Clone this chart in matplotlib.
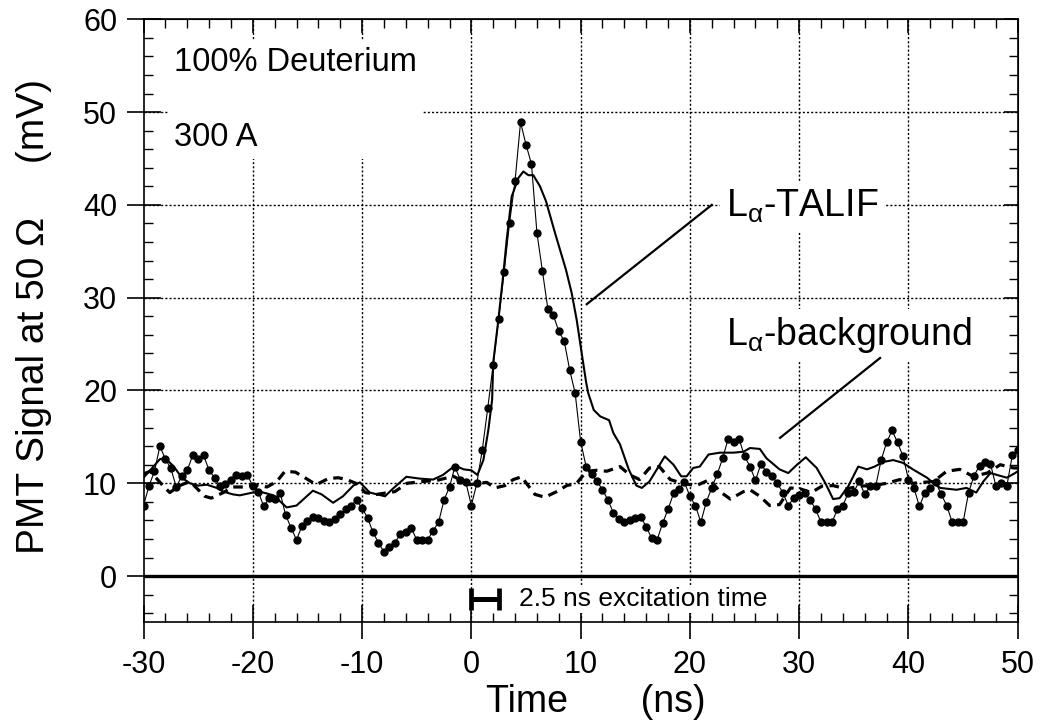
import numpy as np
import matplotlib
matplotlib.use('Agg')
import matplotlib.pyplot as plt

plt.rcParams['font.family'] = ['Liberation Sans', 'DejaVu Sans']
plt.rcParams['mathtext.fontset'] = 'custom'
plt.rcParams['mathtext.rm'] = 'Liberation Sans'
plt.rcParams['mathtext.it'] = 'Liberation Sans'
plt.rcParams['axes.unicode_minus'] = False

# signal with markers, sampled every 0.5 ns from -30 ns
t0 = -30.0
dt = 0.5
dots_mv = [
    7.6, 9.7, 11.3, 14.0, 12.6, 11.6, 9.6, 10.8, 11.4, 13.0,
    12.6, 13.0, 11.4, 10.6, 9.7, 9.9, 10.3, 10.9, 10.8, 10.9,
    9.7, 9.1, 7.5, 8.4, 8.3, 9.0, 6.6, 5.2, 3.9, 5.4,
    5.9, 6.4, 6.3, 5.9, 5.8, 6.2, 6.7, 7.2, 7.6, 8.2,
    7.3, 6.3, 4.7, 3.6, 2.6, 3.1, 3.6, 4.5, 4.8, 5.2,
    3.9, 3.9, 3.9, 4.9, 5.8, 8.2, 9.6, 11.8, 10.3, 10.1,
    7.6, 10.0, 13.6, 18.1, 22.8, 27.7, 32.8, 38.1, 42.6, 48.9,
    46.5, 44.4, 37.0, 32.9, 28.8, 28.1, 26.4, 25.3, 22.2, 19.7,
    14.5, 11.8, 11.0, 10.2, 9.3, 8.2, 6.8, 6.1, 5.8, 6.0,
    6.3, 6.4, 5.3, 4.1, 3.9, 5.7, 7.2, 8.9, 9.4, 10.1,
    8.6, 7.6, 5.8, 8.0, 9.5, 11.0, 12.7, 14.8, 14.4, 14.8,
    12.9, 11.8, 10.3, 12.1, 11.2, 10.8, 10.0, 9.0, 7.6, 8.4,
    8.7, 9.0, 8.2, 7.2, 5.8, 5.8, 5.8, 7.2, 7.6, 9.0,
    9.1, 10.2, 8.8, 9.7, 9.7, 12.5, 14.4, 15.7, 14.4, 12.9,
    10.4, 9.5, 7.5, 9.0, 9.5, 10.1, 8.8, 7.6, 5.8, 5.8,
    5.8, 9.0, 10.8, 11.9, 12.3, 12.1, 9.7, 10.0, 9.7, 13.0,
    13.6,
]

# solid trace
solid_t = [-30.0, -28.5, -28.0, -27.4, -27.1, -26.5, -25.75, -25.0, -24.2, -23.3,
           -22.7, -21.8, -21.2, -20.0, -19.35, -18.1, -16.9, -16.0, -14.5, -13.7,
           -12.65, -11.75, -10.8, -10.2, -9.3, -7.9, -7.2, -5.95, -4.7, -3.5,
           -2.6, -1.5, -0.7, 0.0, 0.55, 1.1, 1.56, 1.9, 2.0, 2.47,
           2.93, 3.23, 3.69, 4.3, 4.76, 5.22, 5.67, 6.28, 6.83, 7.65,
           8.66, 9.18, 9.64, 10.1, 10.5, 10.7, 11.2, 11.8, 12.6, 13.0,
           13.6, 14.4, 15.1, 15.6, 16.3, 17.7, 18.5, 19.2, 19.7, 20.3,
           20.9, 21.7, 22.75, 23.97, 24.9, 25.5, 26.4, 27.0, 28.2, 29.0,
           29.8, 30.6, 31.6, 32.4, 33.1, 33.7, 34.5, 35.4, 36.2, 36.9,
           37.7, 38.6, 39.5, 40.4, 41.7, 42.3, 42.9, 44.4, 45.3, 46.2,
           46.85, 47.5, 48.1, 49.0, 49.75, 50.0]
solid_mv = [10.6, 12.6, 12.7, 12.0, 11.6, 10.6, 10.0, 9.75, 9.85, 9.5,
            9.1, 8.8, 8.7, 9.0, 9.1, 8.7, 7.4, 7.6, 9.2, 8.8,
            7.9, 8.6, 9.75, 10.1, 9.0, 8.6, 9.4, 10.7, 10.5, 10.4,
            10.9, 11.9, 11.5, 11.4, 10.9, 12.5, 15.8, 19.0, 23.0, 27.6,
            32.6, 36.2, 40.9, 42.9, 43.6, 43.2, 43.2, 42.0, 40.4, 37.0,
            33.0, 30.5, 27.6, 24.0, 20.9, 19.7, 17.9, 17.2, 16.8, 15.4,
            14.2, 11.5, 9.75, 9.5, 10.2, 12.9, 12.0, 10.75, 10.75, 11.65,
            11.8, 13.1, 13.3, 13.3, 13.4, 13.8, 13.7, 12.7, 11.5, 11.1,
            12.0, 12.8, 11.65, 10.0, 8.3, 8.4, 9.7, 11.8, 11.5, 11.8,
            12.3, 12.5, 12.2, 11.5, 10.6, 10.0, 9.5, 9.3, 9.5, 9.0,
            10.2, 11.1, 10.9, 10.6, 11.1, 11.3]

# dashed trace
dash_t = [-30.0, -29.4, -28.3, -27.6, -26.7, -25.75, -24.4, -23.8, -22.7, -21.8,
          -20.9, -19.8, -18.7, -17.8, -17.05, -16.1, -15.1, -14.2, -13.1, -12.2,
          -11.4, -10.5, -9.7, -8.7, -7.0, -5.9, -4.4, -3.2, -1.65, -0.13,
          1.4, 2.16, 3.07, 3.83, 4.6, 5.06, 5.82, 6.74, 7.8, 8.72,
          9.63, 10.55, 11.46, 12.4, 13.6, 14.5, 15.4, 16.3, 17.2, 18.2,
          19.4, 20.6, 21.8, 22.75, 23.7, 24.9, 25.5, 26.4, 27.3, 28.2,
          29.2, 30.1, 31.1, 32.1, 33.1, 34.3, 35.6, 36.8, 38.0, 39.2,
          40.45, 42.3, 43.5, 44.7, 45.9, 47.2, 48.4, 49.6, 50.0]
dash_mv = [11.0, 11.3, 9.85, 9.0, 9.75, 10.2, 8.6, 8.4, 9.0, 9.6,
           9.6, 9.85, 9.6, 10.2, 11.3, 11.2, 10.5, 9.85, 10.5, 10.6,
           10.4, 9.96, 9.0, 8.8, 9.1, 10.0, 10.2, 10.3, 10.75, 9.85,
           10.1, 9.5, 9.75, 10.4, 10.7, 9.96, 8.8, 8.5, 9.1, 9.75,
           10.0, 11.3, 11.4, 11.3, 11.8, 10.9, 10.4, 11.65, 11.8, 10.4,
           9.96, 9.75, 10.4, 9.1, 8.3, 9.1, 9.3, 8.6, 7.6, 7.7,
           9.5, 9.4, 9.0, 9.7, 9.75, 9.4, 9.7, 9.75, 10.0, 10.4,
           10.0, 10.2, 11.3, 11.5, 10.75, 11.1, 12.0, 11.65, 11.65]

x_ticks = [-30, -20, -10, 0, 10, 20, 30, 40, 50]
y_ticks = [0, 10, 20, 30, 40, 50, 60]
x_minor = np.arange(-30, 51, 2)
y_minor = np.arange(-4, 61, 2)
pulse_ns = 2.5

dots_t = t0 + dt * np.arange(len(dots_mv))

fig = plt.figure(figsize=(10.43, 7.26), dpi=100)
ax = fig.add_axes([0.1376, 0.1426, 0.8382, 0.8308])

ax.set_xlim(-30, 50)
ax.set_ylim(-5, 60)

# dotted grid, thick zero line
for xv in x_ticks[1:-1]:
    ax.axvline(xv, color='black', lw=1.0, ls=(0, (1.5, 1.5)), zorder=0)
for yv in y_ticks[1:-1]:
    ax.axhline(yv, color='black', lw=1.0, ls=(0, (1.5, 1.5)), zorder=0)
ax.axhline(0, color='black', lw=2.4, zorder=1)

ax.plot(dash_t, dash_mv, color='black', lw=2.3, ls=(0, (3.0, 2.0)), zorder=2)
ax.plot(solid_t, solid_mv, color='black', lw=1.5, zorder=3)
ax.plot(dots_t, dots_mv, color='black', lw=0.8, marker='o', ms=5, zorder=4)

# excitation time bar
ax.errorbar(pulse_ns / 2, -2.5, xerr=pulse_ns / 2, color='black', elinewidth=3.6,
            capsize=8, capthick=3.4, zorder=4)
ax.text(4.4, -2.5, '2.5 ns excitation time', fontsize=19, va='center', ha='left',
        bbox=dict(facecolor='white', edgecolor='none', pad=1), zorder=3)

white = dict(facecolor='white', edgecolor='none', pad=4)
ax.text(-27.2, 46.3, '100% Deuterium\n300 A', fontsize=23.5, va='baseline', ha='left',
        linespacing=2.85, bbox=white, zorder=3)

ax.text(23.3, 38.7, 'L$_{\\mathregular{α}}$-TALIF', fontsize=27, va='baseline',
        ha='left', bbox=white, zorder=3)
ax.plot([10.56, 22.0], [29.3, 40.0], color='black', lw=1.6, zorder=3)
ax.text(23.3, 24.9, 'L$_{\\mathregular{α}}$-background', fontsize=27, va='baseline',
        ha='left', bbox=white, zorder=3)
ax.plot([28.25, 37.4], [14.9, 23.5], color='black', lw=1.6, zorder=3)

ax.set_xticks(x_ticks)
ax.set_yticks(y_ticks)
ax.set_xticks(x_minor, minor=True)
ax.set_yticks(y_minor, minor=True)
ax.tick_params(which='major', direction='inout', length=24, width=1.2, labelsize=22)
ax.tick_params(axis='x', which='major', pad=8)
ax.tick_params(axis='y', which='major', pad=7)
ax.tick_params(which='minor', direction='in', length=6.5, width=1.0)
for sp in ax.spines.values():
    sp.set_linewidth(1.2)

# inward ticks on the top and right edges
top = ax.secondary_xaxis('top')
top.set_xticks(x_ticks, labels=[])
top.set_xticks(x_minor, minor=True)
right = ax.secondary_yaxis('right')
right.set_yticks(y_ticks, labels=[])
right.set_yticks(y_minor, minor=True)
for sec in (top, right):
    sec.tick_params(which='major', direction='in', length=10, width=1.2)
    sec.tick_params(which='minor', direction='in', length=6.5, width=1.0)

ax.set_xlabel('Time       (ns)', fontsize=27, labelpad=3)
ax.xaxis.label.set_x(0.517)
ax.set_ylabel('PMT Signal at 50 Ω     (mV)', fontsize=28, labelpad=22)
ax.yaxis.label.set_y(0.507)

fig.savefig('out.png', dpi=100)
